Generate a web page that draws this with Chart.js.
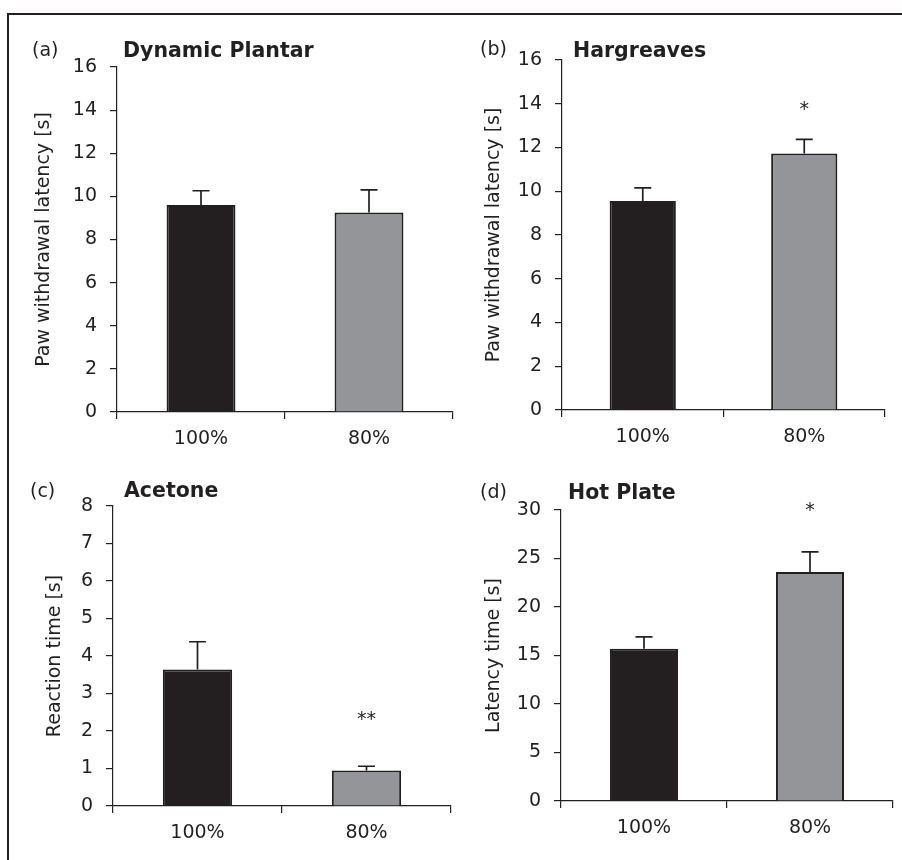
<!DOCTYPE html>
<html>
<head>
<meta charset="utf-8">
<script src="https://cdn.jsdelivr.net/npm/chart.js@4.4.0/dist/chart.umd.min.js"></script>
<style>
  body { margin: 0; background: #fff; width: 902px; height: 860px; overflow: hidden; position: relative; }
  #frame { position: absolute; left: 7px; top: 13px; right: 0; bottom: 0;
           border-top: 2.5px solid #231f20; border-left: 2.5px solid #231f20; }
  canvas { position: absolute; }
</style>
</head>
<body>
<div id="frame"></div>
<canvas id="cA"></canvas>
<canvas id="cB"></canvas>
<canvas id="cC"></canvas>
<canvas id="cD"></canvas>
<script>
// data
const groups = ["100%", "80%"];

const plantarMean = [9.6, 9.25];
const plantarSem = [0.66, 1.05];
const plantarSig = ["", ""];
const plantarSigAt = [null, null];

const hargMean = [9.55, 11.73];
const hargSem = [0.6, 0.64];
const hargSig = ["", "*"];
const hargSigAt = [null, 13.9];

const acetMean = [3.64, 0.95];
const acetSem = [0.74, 0.11];
const acetSig = ["", "**"];
const acetSigAt = [null, 2.4];

const hotMean = [15.7, 23.6];
const hotSem = [1.23, 2.08];
const hotSig = ["", "*"];
const hotSigAt = [null, 30.3];

const INK = "#231f20";
const GREY = "#939598";
const FONT = "'DejaVu Sans', sans-serif";

// error bars, significance marks and panel headings
const extras = {
  id: "extras",
  afterDatasetsDraw(chart, args, o) {
    const { ctx } = chart;
    const y = chart.scales.y;
    const meta = chart.getDatasetMeta(0);
    ctx.save();
    ctx.strokeStyle = INK;
    ctx.lineWidth = 1.7;
    meta.data.forEach((bar, i) => {
      const top = y.getPixelForValue(o.mean[i] + o.sem[i]);
      ctx.beginPath();
      ctx.moveTo(bar.x, bar.y);
      ctx.lineTo(bar.x, top);
      ctx.moveTo(bar.x - 8.5, top);
      ctx.lineTo(bar.x + 8.5, top);
      ctx.stroke();
      if (o.sig[i]) {
        ctx.fillStyle = INK;
        ctx.font = "19px " + FONT;
        ctx.textAlign = "center";
        ctx.textBaseline = "alphabetic";
        ctx.fillText(o.sig[i], bar.x, y.getPixelForValue(o.sigAt[i]) + 9);
      }
    });
    ctx.fillStyle = INK;
    ctx.textAlign = "left";
    ctx.textBaseline = "alphabetic";
    ctx.font = "19px " + FONT;
    ctx.fillText(o.label, o.labelPos[0] - o.left, o.labelPos[1] - o.top);
    ctx.font = "bold 20.5px " + FONT;
    ctx.fillText(o.title, o.titlePos[0] - o.left, o.titlePos[1] - o.top);
    ctx.restore();
  }
};

function makePanel(p) {
  const el = document.getElementById(p.id);
  el.width = p.w;
  el.height = p.h;
  el.style.left = p.left + "px";
  el.style.top = p.top + "px";
  return new Chart(el, {
    type: "bar",
    data: {
      labels: groups,
      datasets: [{
        data: p.mean,
        backgroundColor: [INK, GREY],
        borderColor: INK,
        borderWidth: 2,
        barPercentage: 0.41,
        categoryPercentage: 1
      }]
    },
    options: {
      responsive: false,
      animation: false,
      devicePixelRatio: 1,
      layout: { padding: { top: p.padTop, right: p.padRight, left: 0, bottom: 0 } },
      plugins: {
        legend: { display: false },
        tooltip: { enabled: false },
        extras: {
          mean: p.mean, sem: p.sem, sig: p.sig, sigAt: p.sigAt,
          label: p.label, title: p.title, labelPos: p.labelPos, titlePos: p.titlePos,
          left: p.left, top: p.top
        }
      },
      scales: {
        x: {
          afterFit: s => { s.height = p.xH; },
          grid: { offset: true, drawOnChartArea: false, drawTicks: true, tickLength: 7, color: INK, lineWidth: 1.2 },
          border: { display: true, color: INK, width: 1.2 },
          ticks: { color: INK, font: { family: FONT, size: 19 }, padding: 9 }
        },
        y: {
          min: 0,
          max: p.max,
          afterFit: s => { s.width = p.yW; },
          grid: { drawOnChartArea: false, drawTicks: true, tickLength: 7, color: INK, lineWidth: 1.2 },
          border: { display: true, color: INK, width: 1.2 },
          ticks: { stepSize: p.step, color: INK, font: { family: FONT, size: 19 }, padding: 13 },
          title: { display: true, text: p.yTitle, color: INK, font: { family: FONT, size: 19 },
                   padding: { top: p.titlePad, bottom: 0 } }
        }
      }
    },
    plugins: [extras]
  });
}

makePanel({ id: "cA", left: 10, top: 20, w: 455, h: 440, yW: 107, xH: 48, padTop: 47, padRight: 12, titlePad: 22.5,
  max: 16, step: 2, yTitle: "Paw withdrawal latency [s]",
  mean: plantarMean, sem: plantarSem, sig: plantarSig, sigAt: plantarSigAt,
  label: "(a)", title: "Dynamic Plantar", labelPos: [32, 56], titlePos: [123, 57] });

makePanel({ id: "cB", left: 465, top: 20, w: 437, h: 440, yW: 97, xH: 50, padTop: 40, padRight: 17, titlePad: 18,
  max: 16, step: 2, yTitle: "Paw withdrawal latency [s]",
  mean: hargMean, sem: hargSem, sig: hargSig, sigAt: hargSigAt,
  label: "(b)", title: "Hargreaves", labelPos: [480, 55], titlePos: [573, 57] });

makePanel({ id: "cC", left: 10, top: 460, w: 455, h: 400, yW: 103, xH: 54, padTop: 46, padRight: 14, titlePad: 34,
  max: 8, step: 1, yTitle: "Reaction time [s]",
  mean: acetMean, sem: acetSem, sig: acetSig, sigAt: acetSigAt,
  label: "(c)", title: "Acetone", labelPos: [30, 497], titlePos: [124, 497] });

makePanel({ id: "cD", left: 465, top: 460, w: 437, h: 400, yW: 96, xH: 59, padTop: 50, padRight: 9, titlePad: 18,
  max: 30, step: 5, yTitle: "Latency time [s]",
  mean: hotMean, sem: hotSem, sig: hotSig, sigAt: hotSigAt,
  label: "(d)", title: "Hot Plate", labelPos: [480, 498], titlePos: [568, 499] });
</script>
</body>
</html>
